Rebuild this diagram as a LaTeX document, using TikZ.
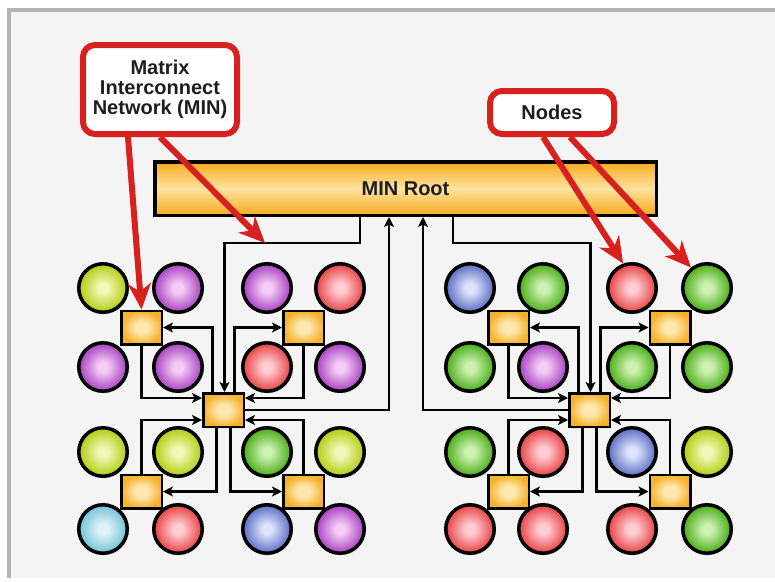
\documentclass[tikz,border=0pt]{standalone}
\usepackage{fontspec}
\setmainfont{Liberation Sans}
\usetikzlibrary{arrows.meta,shadows}

% page and callout colours
\definecolor{pageedge}{HTML}{B4B4B4}
\definecolor{paper}{HTML}{F4F4F4}
\definecolor{calloutred}{HTML}{D8201E}
\definecolor{inkdark}{HTML}{1E1E1E}
% processor node colours: edge / highlight
\definecolor{limeE}{RGB}{180,206,20}
\definecolor{limeC}{RGB}{242,248,185}
\definecolor{purpE}{RGB}{170,70,196}
\definecolor{purpC}{RGB}{245,205,245}
\definecolor{redE}{RGB}{232,72,72}
\definecolor{redC}{RGB}{255,205,212}
\definecolor{grnE}{RGB}{78,176,28}
\definecolor{grnC}{RGB}{205,242,178}
\definecolor{bluE}{RGB}{96,114,198}
\definecolor{bluC}{RGB}{222,228,252}
\definecolor{cyaE}{RGB}{118,196,218}
\definecolor{cyaC}{RGB}{224,243,248}
% switch colours
\definecolor{swE}{RGB}{246,178,44}
\definecolor{swC}{RGB}{254,232,176}
\definecolor{barE}{RGB}{246,170,30}
\definecolor{barC}{RGB}{253,226,160}

% glossy ball shading: highlight in the middle, full colour at the rim
\newcommand\declareball[3]{%
  \pgfdeclareradialshading{#1}{\pgfpoint{0bp}{0bp}}%
    {color(0bp)=(#2); color(5bp)=(#2); color(24bp)=(#3); color(50bp)=(#3)}}
\declareball{ballLime}{limeC}{limeE}
\declareball{ballPurp}{purpC}{purpE}
\declareball{ballRed}{redC}{redE}
\declareball{ballGrn}{grnC}{grnE}
\declareball{ballBlu}{bluC}{bluE}
\declareball{ballCya}{cyaC}{cyaE}
\pgfdeclareradialshading{switchglow}{\pgfpoint{0bp}{0bp}}%
  {color(0bp)=(swC); color(8bp)=(swC); color(25bp)=(swE); color(50bp)=(swE)}

\begin{document}
\begin{tikzpicture}[x=1pt,y=-1pt,
  ball/.style={circle, draw=black, line width=3.5pt, minimum size=48.5pt,
    inner sep=0pt, shade,
    drop shadow={opacity=0.15, shadow xshift=1.5pt, shadow yshift=-2pt}},
  bLime/.style={ball, shading=ballLime},
  bPurp/.style={ball, shading=ballPurp},
  bRed/.style={ball, shading=ballRed},
  bGrn/.style={ball, shading=ballGrn},
  bBlu/.style={ball, shading=ballBlu},
  bCya/.style={ball, shading=ballCya},
  switch/.style={rectangle, draw=black, line width=2.5pt, minimum width=40.5pt,
    minimum height=33.5pt, inner sep=0pt, shade, shading=switchglow,
    drop shadow={opacity=0.15, shadow xshift=1.5pt, shadow yshift=-2pt}},
  rootbar/.style={rectangle, draw=black, line width=3.5pt, minimum width=501.5pt,
    minimum height=53.5pt, inner sep=0pt, top color=barE, bottom color=barE,
    middle color=barC, text=inkdark, font=\fontsize{20}{20}\selectfont\bfseries},
  callout/.style={rectangle, draw=calloutred, line width=6pt,
    rounded corners=12pt, fill=white, align=center, inner sep=0pt,
    text=inkdark, font=\fontsize{20}{20}\selectfont\bfseries},
  wire/.style={draw=black, line width=2.8pt,
    -{Stealth[length=10pt,width=10pt,inset=2.5pt]}},
  pointer/.style={draw=calloutred, line width=6pt,
    -{Stealth[length=26pt,width=23pt,inset=8pt]}}
]
\useasboundingbox (0,0) rectangle (775,581);

% page
\fill[white] (0,0) rectangle (775,581);
\fill[paper] (9,10) rectangle (775,578);
\draw[pageedge, line width=3.5pt] (9,578) -- (9,10) -- (775,10);

% root of the interconnect
\node[rootbar] (bar) at (405.5,188.5) {MIN Root};

% left cluster of processor nodes
\node[bLime] (a11) at (103,288) {};
\node[bPurp] (a12) at (178,288) {};
\node[bPurp] (a13) at (267,288) {};
\node[bRed]  (a14) at (340,288) {};
\node[bPurp] (a21) at (103,367) {};
\node[bPurp] (a22) at (178,367) {};
\node[bRed]  (a23) at (267,367) {};
\node[bPurp] (a24) at (340,367) {};
\node[bLime] (a31) at (103,452) {};
\node[bLime] (a32) at (178,452) {};
\node[bGrn]  (a33) at (267,452) {};
\node[bLime] (a34) at (340,452) {};
\node[bCya]  (a41) at (103,529) {};
\node[bRed]  (a42) at (178,529) {};
\node[bBlu]  (a43) at (267,529) {};
\node[bPurp] (a44) at (340,529) {};

% right cluster of processor nodes
\node[bBlu]  (b11) at (470,288) {};
\node[bGrn]  (b12) at (543,288) {};
\node[bRed]  (b13) at (632,288) {};
\node[bGrn]  (b14) at (707,288) {};
\node[bGrn]  (b21) at (470,367) {};
\node[bPurp] (b22) at (543,367) {};
\node[bGrn]  (b23) at (632,367) {};
\node[bGrn]  (b24) at (707,367) {};
\node[bGrn]  (b31) at (470,452) {};
\node[bRed]  (b32) at (543,452) {};
\node[bBlu]  (b33) at (632,452) {};
\node[bLime] (b34) at (707,452) {};
\node[bRed]  (b41) at (470,529) {};
\node[bRed]  (b42) at (543,529) {};
\node[bRed]  (b43) at (632,529) {};
\node[bGrn]  (b44) at (707,529) {};

% switches
\node[switch] (aTL) at (141.5,327.5) {};
\node[switch] (aTR) at (303.5,327.5) {};
\node[switch] (aBL) at (141.5,491.5) {};
\node[switch] (aBR) at (303.5,491.5) {};
\node[switch] (aS)  at (223.5,410) {};
\node[switch] (bTL) at (508.5,327.5) {};
\node[switch] (bTR) at (670,327.5) {};
\node[switch] (bBL) at (508.5,491.5) {};
\node[switch] (bBR) at (670,491.5) {};
\node[switch] (bS)  at (589.5,410) {};

% links between a second-level switch and its four leaf switches
\newcommand\hookup[1]{%
  \draw[wire] (#1TL.south) |- ([yshift=12pt]#1S.west);
  \draw[wire] (#1TR.south) |- ([yshift=12pt]#1S.east);
  \draw[wire] (#1BL.north) |- ([yshift=-10pt]#1S.west);
  \draw[wire] (#1BR.north) |- ([yshift=-10pt]#1S.east);
  \draw[wire] ([xshift=-11pt]#1S.north) |- (#1TL.east);
  \draw[wire] ([xshift=11pt]#1S.north) |- (#1TR.west);
  \draw[wire] ([xshift=-7pt]#1S.south) |- (#1BL.east);
  \draw[wire] ([xshift=7pt]#1S.south) |- (#1BR.west);
}
\hookup{a}
\hookup{b}

% links to and from the root
\coordinate (aTap)  at (360,0);
\coordinate (aRise) at (389,0);
\coordinate (bRise) at (423,0);
\coordinate (bTap)  at (453,0);
\draw[wire] (bar.south -| aTap) -- ++(0,26) -| ([xshift=1pt]aS.north);
\draw[wire] (aS.east) -| (bar.south -| aRise);
\draw[wire] (bS.west) -| (bar.south -| bRise);
\draw[wire] (bar.south -| bTap) -- ++(0,26) -| ([xshift=1pt]bS.north);

% callouts
\node[callout, minimum width=154pt, minimum height=89pt] (mincall)
  at (160,89.5) {Matrix\\Interconnect\\Network (MIN)};
\node[callout, minimum width=124pt, minimum height=43pt] (nodecall)
  at (552,112.5) {Nodes};
\coordinate (minwire) at (265,243);
\draw[pointer] ([xshift=-32pt]mincall.south) -- (aTL.north);
\draw[pointer] (mincall.south) -- (minwire);
\draw[pointer] ([xshift=-9pt]nodecall.south) -- (b13.110);
\draw[pointer] ([xshift=18pt]nodecall.south) -- (b14.128);
\end{tikzpicture}
\end{document}
